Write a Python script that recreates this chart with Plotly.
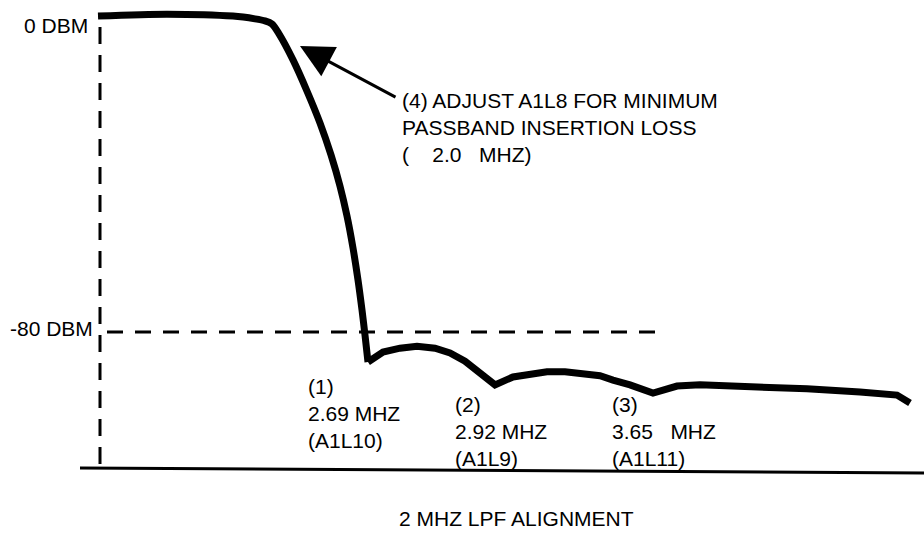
import plotly.graph_objects as go

# ---- data (schematic horizontal position, level in dBm) ----
pos = [98, 167, 233, 255, 265, 272, 279, 293, 307, 320, 331, 340, 347, 353, 358, 362, 365, 368,
       383, 400, 417, 435, 450, 465, 477, 495, 513, 530, 547, 565, 580, 600, 613, 630, 653,
       677, 700, 740, 807, 860, 897, 910]
level_db = [0.1, 0.6, 0.1, -0.6, -1.1, -1.9, -4.4, -11.0, -18.9, -27.0, -35.1, -43.0, -50.6,
            -58.7, -66.8, -74.4, -80.8, -87.6, -85.1, -84.1, -83.6, -84.1, -85.3, -87.4, -89.6,
            -93.4, -91.4, -90.6, -90.1, -90.1, -90.4, -91.1, -92.2, -93.4, -95.5, -93.7, -93.4,
            -93.7, -94.4, -95.2, -96.0, -98.0]
first_notch_index = 17  # end of the skirt, start of the stopband

ref_levels = [0, -80]
ref_labels = ["0 DBM", "-80 DBM"]
notch_labels = [["(1)", "2.69 MHZ", "(A1L10)"],
                ["(2)", "2.92 MHZ", "(A1L9)"],
                ["(3)", "3.65\u00a0\u00a0 MHZ", "(A1L11)"]]
note_lines = ["(4) ADJUST A1L8 FOR MINIMUM", "PASSBAND INSERTION LOSS",
              "(\u00a0\u00a0\u00a0 2.0\u00a0\u00a0 MHZ)"]
title_text = "2 MHZ LPF ALIGNMENT"

W, H = 924, 534
PX_PER_DB = 3.944
Y0 = 16.5  # pixel of 0 dBm
y_top = Y0 / PX_PER_DB
y_bot = -(H - Y0) / PX_PER_DB


def db(py):
    return -(py - Y0) / PX_PER_DB


def px(x, y):
    return x / W, 1 - y / H


FONT = dict(family="Liberation Sans, Arial, sans-serif", size=21, color="black")

fig = go.Figure()

# baseline
fig.add_trace(go.Scatter(x=[80, 924], y=[db(468), db(473)], mode="lines",
                         line=dict(color="black", width=3), hoverinfo="skip"))
# vertical dashed reference
fig.add_trace(go.Scatter(x=[100, 100], y=[db(27), db(465)], mode="lines",
                         line=dict(color="black", width=3, dash="17px,11px"), hoverinfo="skip"))
# -80 dBm dashed reference
fig.add_trace(go.Scatter(x=[107, 667], y=[ref_levels[1], ref_levels[1]], mode="lines",
                         line=dict(color="black", width=3, dash="16px,12px"), hoverinfo="skip"))
# response curve: passband + skirt (smooth), stopband (sharp notches)
k = first_notch_index
fig.add_trace(go.Scatter(x=pos[:k + 1], y=level_db[:k + 1], mode="lines",
                         line=dict(color="black", width=7, shape="spline", smoothing=0.8),
                         hoverinfo="skip"))
fig.add_trace(go.Scatter(x=pos[k:], y=level_db[k:], mode="lines",
                         line=dict(color="black", width=7), hoverinfo="skip"))

ann = []
# reference labels
for lbl, lv, xl in zip(ref_labels, ref_levels, [22, 8]):
    yy = Y0 - lv * PX_PER_DB + (9 if lv == 0 else -4)
    ax_, ay_ = px(xl, yy)
    ann.append(dict(x=ax_, y=ay_, xref="paper", yref="paper", text=lbl, showarrow=False,
                    xanchor="left", yanchor="middle", font=FONT))

# notch labels
for lines, xl, yc in zip(notch_labels, [306, 453, 610], [386, 404, 404]):
    for i, t in enumerate(lines):
        ax_, ay_ = px(xl, yc + 27 * i)
        ann.append(dict(x=ax_, y=ay_, xref="paper", yref="paper", text=t, showarrow=False,
                        xanchor="left", yanchor="middle", font=FONT))

# note
for i, t in enumerate(note_lines):
    ax_, ay_ = px(400, 100 + 27 * i)
    ann.append(dict(x=ax_, y=ay_, xref="paper", yref="paper", text=t, showarrow=False,
                    xanchor="left", yanchor="middle", font=FONT))

# arrow
ann.append(dict(x=300, y=db(46), xref="x", yref="y", ax=97, ay=52, text="",
                showarrow=True, arrowhead=2, arrowsize=2.2, arrowwidth=3,
                arrowcolor="black", standoff=0))

# title
tx, ty = px(516, 518)
ann.append(dict(x=tx, y=ty, xref="paper", yref="paper", text=title_text, showarrow=False,
                xanchor="center", yanchor="middle", font=FONT))

fig.update_layout(
    width=W, height=H, margin=dict(l=0, r=0, t=0, b=0),
    paper_bgcolor="white", plot_bgcolor="white", showlegend=False,
    xaxis=dict(range=[0, W], visible=False, fixedrange=True),
    yaxis=dict(range=[y_bot, y_top], visible=False, fixedrange=True),
    annotations=ann,
)

fig.write_html("out.html", config={"displayModeBar": False},
               post_script="document.body.style.margin='0';")
